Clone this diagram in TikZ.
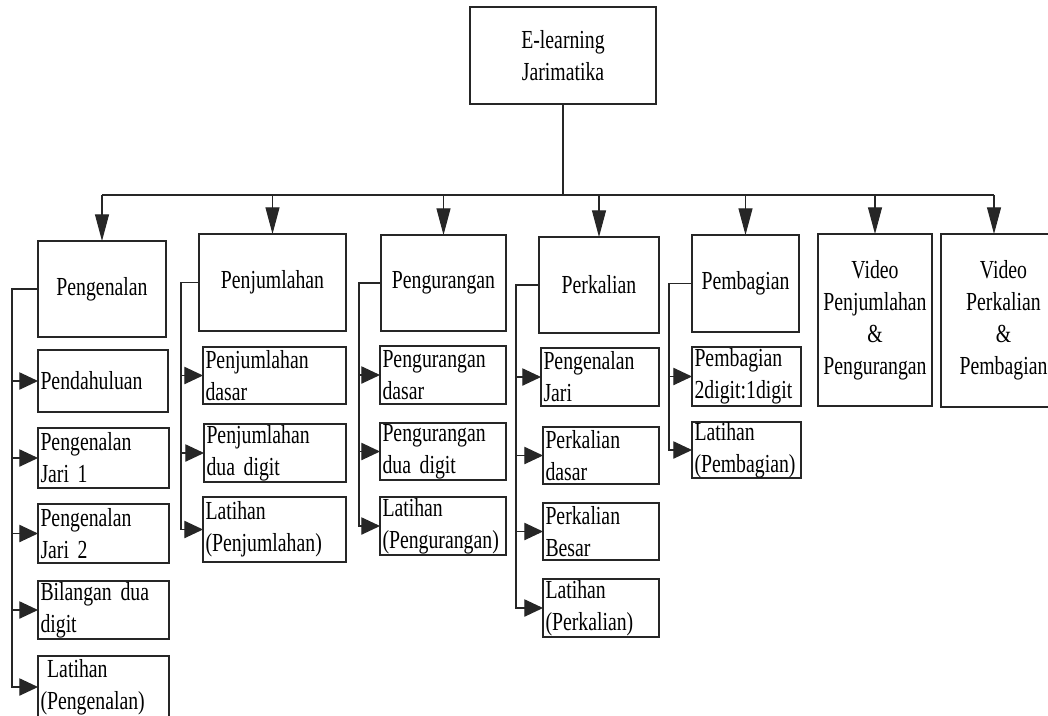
\documentclass[tikz,border=0pt]{standalone}
\usepackage{fontspec}
\setmainfont{Liberation Serif}[FakeStretch=0.76,WordSpace=0.6]
\usetikzlibrary{arrows.meta}
\newcommand{\mybx}[7]{%
  \pgfmathsetmacro\myW{(#4-#2)*0.75}%
  \pgfmathsetmacro\myH{(#5-#3)*0.75}%
  \pgfmathsetmacro\myT{(#4-#2-5)*0.75}%
  \node[#7,minimum width=\myW pt,minimum height=\myH pt,text width=\myT pt] (#1) at ({(#2+#4)/2},{(#3+#5)/2}) {#6};}
\tikzset{
  base/.style={draw=black!85, line width=0.8pt, inner sep=0pt, inner xsep=1.5pt, outer sep=0pt,
    font=\fontsize{19.5}{24}\selectfont, text=black},
  topbox/.style={base, align=center},
  childbox/.style={base, align=left},
  darr/.style={draw=black!85, line width=0.8pt, -{Triangle[length=20pt,width=10.5pt]}},
  sarr/.style={draw=black!85, line width=0.8pt, -{Triangle[length=14pt,width=13pt]}},
  plain/.style={draw=black!85, line width=0.8pt}
}
\begin{document}
\begin{tikzpicture}[x=0.75pt,y=-0.75pt]
\useasboundingbox[fill=white] (0,0) rectangle (1048,715);
% root
\mybx{root}{470}{7}{656}{104}{E-learning\\Jarimatika}{topbox}
% level 1
\mybx{A}{38}{241}{166}{337}{Pengenalan}{topbox}
\mybx{B}{199}{234}{346}{331}{Penjumlahan}{topbox}
\mybx{C}{381}{235}{506}{331}{Pengurangan}{topbox}
\mybx{D}{539}{237}{659}{333}{Perkalian}{topbox}
\mybx{E}{692}{235}{799}{332}{Pembagian}{topbox}
\mybx{F}{818}{234}{932}{406}{Video\\Penjumlahan\\\&\\Pengurangan}{topbox}
\mybx{G}{941}{234}{1066}{407}{Video\\Perkalian\\\&\\Pembagian}{topbox}
% children of Pengenalan
\mybx{a1}{38}{350}{168}{412}{Pendahuluan}{childbox}
\mybx{a2}{38}{428}{169}{488}{Pengenalan\\Jari 1}{childbox}
\mybx{a3}{38}{504}{169}{563}{Pengenalan\\Jari 2}{childbox}
\mybx{a4}{38}{581}{169}{639}{Bilangan dua\\digit}{childbox}
\mybx{a5}{38}{656}{169}{718}{\hspace*{5pt}Latihan\\(Pengenalan)}{childbox}
% children of Penjumlahan
\mybx{b1}{203}{347}{346}{404}{Penjumlahan\\dasar}{childbox}
\mybx{b2}{204}{424}{346}{482}{Penjumlahan\\dua digit}{childbox}
\mybx{b3}{203}{497}{346}{562}{Latihan\\(Penjumlahan)}{childbox}
% children of Pengurangan
\mybx{c1}{380}{346}{506}{404}{Pengurangan\\dasar}{childbox}
\mybx{c2}{380}{423}{506}{480}{Pengurangan\\dua digit}{childbox}
\mybx{c3}{380}{497}{506}{555}{Latihan\\(Pengurangan)}{childbox}
% children of Perkalian
\mybx{d1}{541}{348}{659}{406}{Pengenalan\\Jari}{childbox}
\mybx{d2}{543}{427}{659}{484}{Perkalian\\dasar}{childbox}
\mybx{d3}{543}{503}{659}{560}{Perkalian\\Besar}{childbox}
\mybx{d4}{543}{579}{659}{637}{Latihan\\(Perkalian)}{childbox}
% children of Pembagian
\mybx{e1}{692}{347}{801}{406}{Pembagian\\2digit:1digit}{childbox}
\mybx{e2}{692}{422}{801}{478}{Latihan\\(Pembagian)}{childbox}
% bus
\coordinate (busL) at (102,195);
\coordinate (busR) at (994,195);
\coordinate (gx) at (994,195);
\draw[plain] (root.south) -- (root.south |- busL);
\draw[plain] (busL) -- (busR);
\foreach \n in {A,B,C,D,E,F}{\draw[darr] (\n.north |- busL) -- (\n.north);}
\draw[darr] (gx) -- (gx |- G.north);
% side connectors
\coordinate (va) at (12,0);
\coordinate (vb) at (181,0);
\coordinate (vc) at (359,0);
\coordinate (vd) at (516,0);
\coordinate (ve) at (669,0);
\foreach \c in {a1,a2,a3,a4,a5}{\draw[sarr] (A.west) -- (va |- A.west) |- (\c.west);}
\foreach \c in {b1,b2,b3}{\draw[sarr] (B.west) -- (vb |- B.west) |- (\c.west);}
\foreach \c in {c1,c2,c3}{\draw[sarr] (C.west) -- (vc |- C.west) |- (\c.west);}
\foreach \c in {d1,d2,d3,d4}{\draw[sarr] (D.west) -- (vd |- D.west) |- (\c.west);}
\foreach \c in {e1,e2}{\draw[sarr] (E.west) -- (ve |- E.west) |- (\c.west);}
\end{tikzpicture}
\end{document}
